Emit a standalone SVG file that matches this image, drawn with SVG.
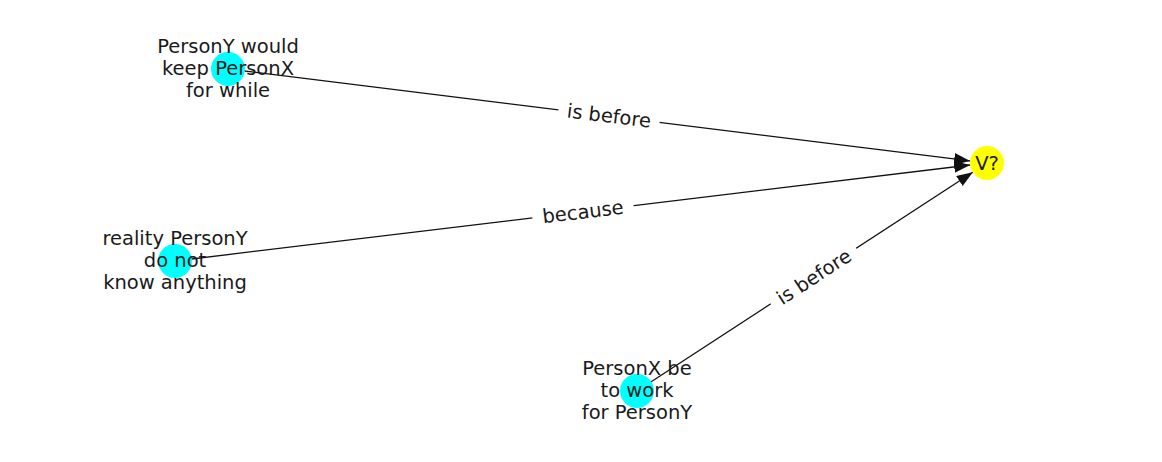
<svg xmlns="http://www.w3.org/2000/svg" width="1162" height="462" viewBox="0 0 1162 462">
<style>
text{font-family:"DejaVu Sans",sans-serif;font-size:19.5px;fill:#1a1a1a}
.nl{text-anchor:middle}
.el{text-anchor:middle;dominant-baseline:central}
.edge{stroke:#111;stroke-width:1.3;fill:none}
.bg{fill:#fff}
</style>
<defs>
<marker id="ah" markerUnits="userSpaceOnUse" markerWidth="17" markerHeight="13" refX="16" refY="6" orient="auto" viewBox="0 0 17 13">
<path d="M0,0 L16,6 L0,12 z" fill="#111"/>
</marker>
</defs>
<rect width="1162" height="462" fill="#fff"/>
<g id="connectors">
<line class="edge" x1="228" y1="69" x2="970.1" y2="160.9" marker-end="url(#ah)"/>
<line class="edge" x1="175" y1="261" x2="970.1" y2="165" marker-end="url(#ah)"/>
<line class="edge" x1="637" y1="391" x2="972.8" y2="172.3" marker-end="url(#ah)"/>
<g transform="translate(609,116) rotate(7.06)">
<rect class="bg" x="-51" y="-14" width="102" height="28"/>
<text class="el" x="0" y="0">is before</text>
</g>
<g transform="translate(583,212) rotate(-6.88)">
<rect class="bg" x="-51" y="-14" width="102" height="28"/>
<text class="el" x="0" y="0">because</text>
</g>
<g transform="translate(814,277) rotate(-33.1)">
<rect class="bg" x="-51" y="-14" width="102" height="28"/>
<text class="el" x="0" y="0">is before</text>
</g>
</g>
<g id="n1">
<circle cx="228" cy="69" r="17" fill="#00ffff"/>
<text class="nl" x="228" y="53">PersonY would</text>
<text class="nl" x="228" y="75">keep PersonX</text>
<text class="nl" x="228" y="97">for while</text>
</g>
<g id="n2">
<circle cx="175" cy="261" r="17" fill="#00ffff"/>
<text class="nl" x="175" y="245">reality PersonY</text>
<text class="nl" x="175" y="267">do not</text>
<text class="nl" x="175" y="289">know anything</text>
</g>
<g id="n3">
<circle cx="637" cy="391" r="17" fill="#00ffff"/>
<text class="nl" x="637" y="375">PersonX be</text>
<text class="nl" x="637" y="397">to work</text>
<text class="nl" x="637" y="419">for PersonY</text>
</g>
<g id="n4">
<circle cx="987" cy="163" r="17" fill="#ffff00"/>
<text class="nl" x="987" y="170">V?</text>
</g>
</svg>
